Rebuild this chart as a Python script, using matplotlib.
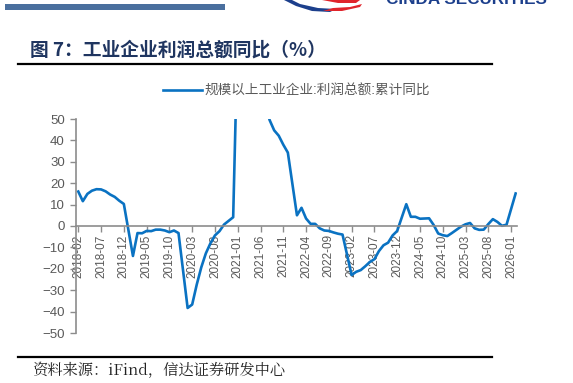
import numpy as np
import matplotlib
matplotlib.use("Agg")
import matplotlib.pyplot as plt
from matplotlib.patches import Rectangle, Polygon

plt.rcParams['font.family'] = ['Liberation Sans', 'Noto Sans CJK SC', 'DejaVu Sans']

# cumulative YoY, Jan is not published (Jan-Feb combined)
years = [2018, 2019, 2020, 2021, 2022, 2023, 2024, 2025, 2026]
months = [2, 3, 4, 5, 6, 7, 8, 9, 10, 11, 12]
profit_yoy = [
    [16.1, 11.6, 15.0, 16.5, 17.2, 17.1, 16.2, 14.7, 13.6, 11.8, 10.3],
    [-14.0, -3.3, -3.4, -2.3, -2.4, -1.7, -1.7, -2.1, -2.9, -2.1, -3.3],
    [-38.3, -36.7, -27.4, -19.3, -12.8, -8.1, -4.4, -2.4, 0.7, 2.4, 4.1],
    [178.9, 137.3, 106.0, 83.4, 66.9, 57.3, 49.5, 44.7, 42.2, 38.0, 34.3],
    [5.0, 8.5, 3.5, 1.0, 1.0, -1.1, -2.1, -2.3, -3.0, -3.6, -4.0],
    [-22.9, -21.4, -20.6, -18.8, -16.8, -15.5, -11.7, -9.0, -7.8, -4.4, -2.3],
    [10.2, 4.3, 4.3, 3.4, 3.5, 3.6, 0.5, -3.5, -4.3, -4.7, -3.3],
    [-0.3, 0.8, 1.4, -1.1, -1.8, -1.7, 0.9, 3.2, 1.9, 0.1, 0.6],
    [15.2],
]
tick_labels = ['2018-02', '2018-07', '2018-12', '2019-05', '2019-10', '2020-03',
               '2020-08', '2021-01', '2021-06', '2021-11', '2022-04', '2022-09',
               '2023-02', '2023-07', '2023-12', '2024-05', '2024-10', '2025-03',
               '2025-08', '2026-01']
y_ticks = [50, 40, 30, 20, 10, 0, -10, -20, -30, -40, -50]

# month index counted from 2018-02
x = []
y = []
for yr, vals in zip(years, profit_yoy):
    for m, v in zip(months, vals):
        x.append((yr - 2018) * 12 + (m - 2))
        y.append(v)
tick_pos = [(int(s[:4]) - 2018) * 12 + int(s[5:]) - 2 for s in tick_labels]

fig = plt.figure(figsize=(5.73, 3.83), dpi=100)

# page decorations in pixel coords
bg = fig.add_axes([0, 0, 1, 1], zorder=0)
bg.set_xlim(0, 573)
bg.set_ylim(383, 0)
bg.axis('off')
bg.add_patch(Rectangle((5, 4), 220, 6, color='#4a6f9e', lw=0))
bg.add_patch(Polygon([(284, 0), (296, 6), (312, 11), (330, 12), (336, 9), (318, 8),
                      (300, 4), (292, 0)], color='#1c3f8c', lw=0))
bg.add_patch(Polygon([(323, 11), (342, 11), (360, 7), (362, 4), (350, 7), (333, 8)],
                     color='#e0242b', lw=0))
bg.add_patch(Polygon([(322, 0), (338, 3), (356, 3), (360, 0)], color='#e0242b', lw=0))
bg.text(386, 3.5, 'CINDA SECURITIES', fontsize=12.3, fontweight='bold', color='#1c3f8c',
        va='baseline', ha='left')
bg.text(30, 50, '图 7：工业企业利润总额同比（%）', fontsize=13.5, fontweight='bold',
        color='#1f3560', va='center', ha='left', family=['Noto Sans CJK SC', 'DejaVu Sans'])
bg.plot([18, 492], [64, 64], color='black', lw=1.6)
bg.plot([18, 492], [357, 357], color='black', lw=1.6)
bg.text(32, 371, '资料来源：iFind，信达证券研发中心', fontsize=11, color='#222222',
        va='center', ha='left', style='italic',
        family=['Noto Serif CJK SC', 'Noto Sans CJK SC', 'DejaVu Sans'])

ax = fig.add_axes([76 / 573, 1 - 333 / 383, (517 - 76) / 573, (333 - 119) / 383], zorder=1)
ax.patch.set_alpha(0)
ax.plot(x, y, color='#0a72c2', lw=1.9, label='规模以上工业企业:利润总额:累计同比')
ax.set_ylim(-50, 50)
ax.set_xlim(-0.5, 96.3)
ax.set_yticks(y_ticks)
ax.set_xticks(tick_pos)
ax.set_xticklabels(tick_labels)
for s in ['top', 'right']:
    ax.spines[s].set_visible(False)
ax.spines['bottom'].set_position(('data', 0))
ax.spines['bottom'].set_color('#8c8c8c')
ax.spines['left'].set_color('#8c8c8c')
ax.spines['bottom'].set_linewidth(1.2)
ax.spines['left'].set_linewidth(1.2)
ax.tick_params(axis='both', colors='#8c8c8c', labelcolor='#595959', labelsize=8.5,
               length=4, width=1)
ax.tick_params(axis='y', labelsize=9.5, pad=4)
ax.tick_params(axis='x', pad=2, labelrotation=90)

leg = ax.legend(loc='center', bbox_to_anchor=(0.5, 1.0 + (119 - 91) / 214), frameon=False,
                fontsize=9.8, handlelength=2.9, handletextpad=0.2)
for t in leg.get_texts():
    t.set_color('#595959')

fig.savefig('out.png', dpi=100)
